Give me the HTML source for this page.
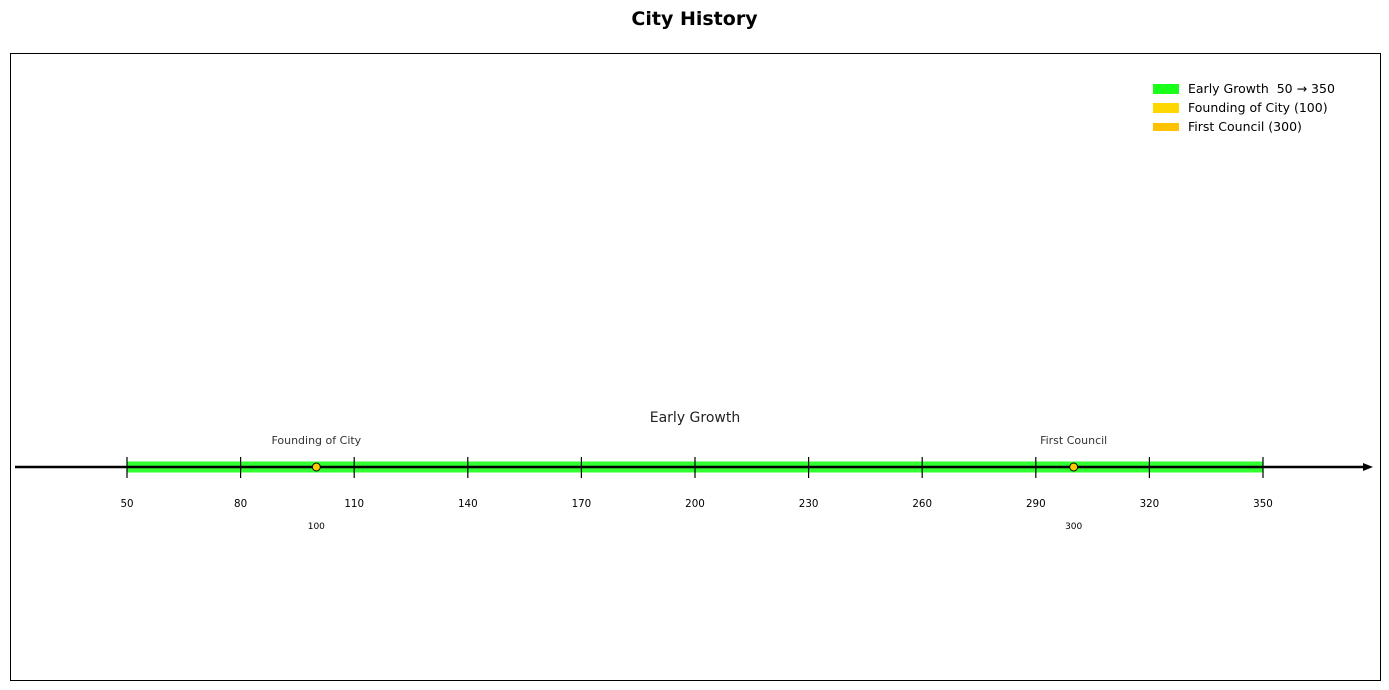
<!DOCTYPE html>
<html><head><meta charset="utf-8"><style>
body{margin:0;background:#fff;}
svg{display:block;font-family:"DejaVu Sans","Liberation Sans",sans-serif;}
</style></head><body>
<svg id="chart" width="1389" height="690">
<text x="694.5" y="25" text-anchor="middle" font-size="19" font-weight="bold" fill="#000">City History</text>
<rect x="10.5" y="53.5" width="1370" height="627" fill="none" stroke="#000" stroke-width="1"/>
<g id="layer"></g>
<g>
<rect x="1153" y="84" width="26" height="10" fill="#1aff1a"/>
<text x="1188" y="93" font-size="12.5" fill="#000" style="white-space:pre">Early Growth  50 → 350</text>
<rect x="1153" y="103" width="26" height="10" fill="#ffd700"/>
<text x="1188" y="112" font-size="12.5" fill="#000">Founding of City (100)</text>
<rect x="1153" y="123" width="26" height="8" fill="#ffc200"/>
<text x="1188" y="131" font-size="12.5" fill="#000">First Council (300)</text>
</g>
</svg>
<script>
const ticks=[50,80,110,140,170,200,230,260,290,320,350];
const periodNames=["Early Growth"];
const periodStarts=[50];
const periodEnds=[350];
const eventNames=["Founding of City","First Council"];
const eventYears=[100,300];
const NS="http://www.w3.org/2000/svg";
const g=document.getElementById("layer");
const x=v=>127+(v-50)*(1136/300);
const Y=467;
function mk(t,a){const e=document.createElementNS(NS,t);for(const k in a)e.setAttribute(k,a[k]);g.appendChild(e);return e;}
periodNames.forEach((n,i)=>{
 const r=mk("rect",{x:x(periodStarts[i]),y:Y-5.5,width:x(periodEnds[i])-x(periodStarts[i]),height:11,fill:"#1aff1a",opacity:0.9});
 
 
 const t=mk("text",{x:(x(periodStarts[i])+x(periodEnds[i]))/2,y:422,"text-anchor":"middle","font-size":"14",fill:"#222"});
 t.textContent=n;
 
 
});
const ax=mk("line",{x1:15,y1:Y,x2:1364,y2:Y,stroke:"#000","stroke-width":2.5});


const ar=mk("path",{d:`M1373 ${Y} L1363 ${Y-4} L1363 ${Y+4} Z`,fill:"#000"});


ticks.forEach(v=>{
 const l=mk("line",{x1:x(v),y1:457,x2:x(v),y2:478,stroke:"#000","stroke-width":1.2});
 
 
 const t=mk("text",{x:x(v),y:507,"text-anchor":"middle","font-size":"10.3",fill:"#000"});
 t.textContent=v;
 
 
});
eventNames.forEach((n,i)=>{
 const cx=x(eventYears[i]);
 const c=mk("circle",{cx:cx,cy:Y,r:4,fill:"#ffc800",stroke:"#000","stroke-width":1});
 
 
 const t=mk("text",{x:cx,y:444,"text-anchor":"middle","font-size":"11",fill:"#333"});
 t.textContent=n;
 
 
 const y2=mk("text",{x:cx,y:529,"text-anchor":"middle","font-size":"9",fill:"#000"});
 y2.textContent=eventYears[i];
 
 
});
</script>
</body></html>
